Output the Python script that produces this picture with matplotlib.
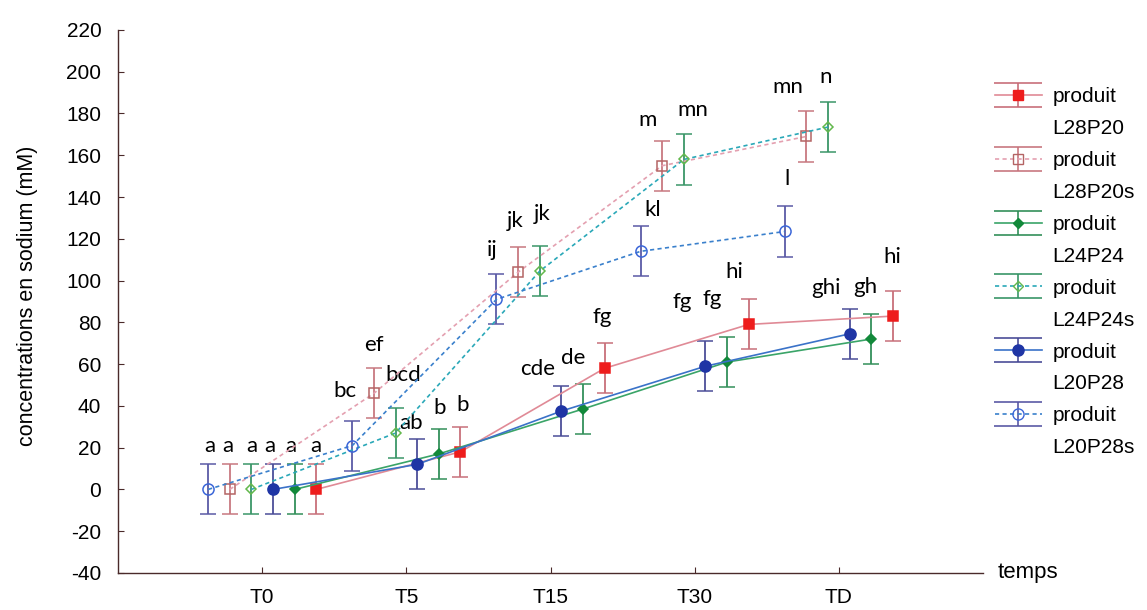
import matplotlib
matplotlib.use("Agg")
import matplotlib.pyplot as plt
from matplotlib.lines import Line2D
from matplotlib.path import Path

plt.rcParams['font.family'] = ['Liberation Sans', 'DejaVu Sans']
plt.rcParams['axes.unicode_minus'] = False

# data
temps = ['T0', 'T5', 'T15', 'T30', 'TD']
series = ['L28P20', 'L28P20s', 'L24P24', 'L24P24s', 'L20P28', 'L20P28s']

L28P20 = [0, 18, 58, 79, 83]
L28P20s = [0, 46, 104, 155, 169]
L24P24 = [0, 17, 38.5, 61, 72]
L24P24s = [0, 27, 104.5, 158, 173.5]
L20P28 = [0, 12, 37.5, 59, 74.5]
L20P28s = [0, 21, 91, 114, 123.5]

err_L28P20 = [12, 12, 12, 12, 12]
err_L28P20s = [12, 12, 12, 12, 12]
err_L24P24 = [12, 12, 12, 12, 12]
err_L24P24s = [12, 12, 12, 12, 12]
err_L20P28 = [12, 12, 12, 12, 12]
err_L20P28s = [12, 12, 12, 12, 12]

lettres_L28P20 = ['a', 'b', 'fg', 'hi', 'hi']
lettres_L28P20s = ['a', 'ef', 'jk', 'm', 'mn']
lettres_L24P24 = ['a', 'b', 'de', 'fg', 'gh']
lettres_L24P24s = ['a', 'bcd', 'jk', 'mn', 'n']
lettres_L20P28 = ['a', 'ab', 'cde', 'fg', 'ghi']
lettres_L20P28s = ['a', 'bc', 'ij', 'kl', 'l']

values = [L28P20, L28P20s, L24P24, L24P24s, L20P28, L20P28s]
errors = [err_L28P20, err_L28P20s, err_L24P24, err_L24P24s, err_L20P28, err_L20P28s]
letters = [lettres_L28P20, lettres_L28P20s, lettres_L24P24, lettres_L24P24s,
           lettres_L20P28, lettres_L20P28s]

# styling / layout
shift = [0.375, -0.225, 0.225, -0.075, 0.075, -0.375]
marker = ['s', 's', 'D', 'D', 'o', 'o']
msize = [7.5, 7.5, 5, 5, 8, 8]
mcol = ['#ee1c1c', '#b46464', '#12893a', '#62b84c', '#1f35a5', '#3b66d8']
filled = [True, False, True, False, True, False]
lcol = ['#e08a96', '#e4a0b0', '#3aa468', '#2aa8b8', '#3a72c8', '#3a80cc']
ecol = ['#c8707a', '#c87880', '#33905a', '#3a9668', '#4c4e98', '#5b5aa6']
lstyle = ['-', (0, (2.5, 2)), '-', (0, (2.5, 2)), '-', (0, (2.5, 2))]

# label offsets (pixels) from the top of each error bar
lab_dx = [[0, 2, -2, -14, -1], [-2, 0, -3, -15, -19], [-4, 1, -10, -15, -6],
          [0, 8, 2, 9, -2], [-3, -6, -24, -23, -24], [2, -7, -4, 12, 2]]
lab_dy = [[18, 22, 26, 27, 34], [18, 23, 26, 21, 24], [18, 21, 26, 38, 27],
          [18, 33, 32, 24, 25], [18, 16, 17, 39, 21], [18, 30, 24, 16, 27]]

fig = plt.figure(figsize=(11.47, 6.10), dpi=100)
ax = fig.add_axes([0.1029, 0.0607, 0.7541, 0.8902])

xbase = list(range(1, len(temps) + 1))
for i in range(len(series)):
    xs = [x + shift[i] for x in xbase]
    ax.errorbar(xs, values[i], yerr=errors[i], color=lcol[i], ls=lstyle[i], lw=1.2,
                marker=marker[i], ms=msize[i], mec=mcol[i],
                mfc=mcol[i] if filled[i] else 'none', mew=1.1,
                ecolor=ecol[i], elinewidth=1.3, capsize=5.5, capthick=1.3, zorder=3)
    for j in range(len(temps)):
        ax.annotate(letters[i][j], (xs[j], values[i][j] + errors[i][j]),
                    xytext=(lab_dx[i][j], lab_dy[i][j]), textcoords='offset pixels',
                    ha='center', va='center', fontsize=16, family=['Lato', 'DejaVu Sans'])

ax.set_xlim(0, 6)
ax.set_ylim(-40, 220)
ax.set_yticks(range(-40, 221, 20))
ax.set_xticks(xbase)
ax.set_xticklabels(temps)
for s in ['top', 'right']:
    ax.spines[s].set_visible(False)
for s in ['left', 'bottom']:
    ax.spines[s].set_color('#4a2a2a')
    ax.spines[s].set_linewidth(1.0)
ax.tick_params(direction='in', length=4, color='#4a2a2a', labelsize=15)
ax.tick_params(axis='x', pad=11)
ax.tick_params(axis='y', pad=12)
ax.set_ylabel('concentrations en sodium (mM)', fontsize=15.5)
ax.yaxis.set_label_coords(-0.093, 0.51)
ax.text(1.017, 0, 'temps', transform=ax.transAxes, ha='left', va='center', fontsize=16)

# legend: error bar sign with wide caps
capmark = Path([(-1, -0.5), (1, -0.5), (-1, 0.5), (1, 0.5), (0, -0.5), (0, 0.5)],
               [Path.MOVETO, Path.LINETO] * 3)
handles = []
labels = []
for i in range(len(series)):
    bar = Line2D([], [], ls='none', marker=capmark, ms=34, mec=ecol[i], mfc='none', mew=1.2)
    line = Line2D([], [], color=lcol[i], ls=lstyle[i], lw=1.2, marker=marker[i],
                  ms=msize[i], mec=mcol[i], mfc=mcol[i] if filled[i] else 'none')
    handles.append((bar, line))
    labels.append('produit')
    handles.append(Line2D([], [], alpha=0))
    labels.append(series[i])
fig.legend(handles, labels, loc='upper left', bbox_to_anchor=(0.8675, 0.857),
           frameon=False, fontsize=15, handlelength=2.25, handletextpad=0.5,
           labelspacing=0.62, borderpad=0, borderaxespad=0)

fig.savefig('out.png', dpi=100)
